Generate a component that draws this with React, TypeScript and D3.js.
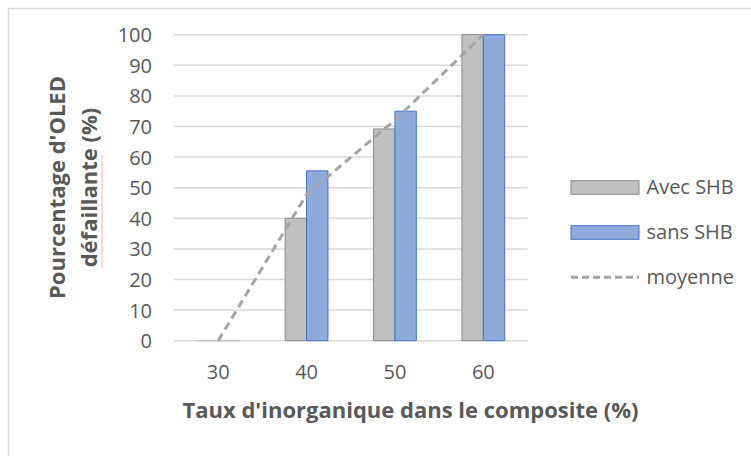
import React from 'react';
import * as d3 from 'd3';

// data
const categories = ['30', '40', '50', '60'];
const avecSHB = [0, 40, 69.2, 100];
const sansSHB = [0, 55.5, 75, 100];
const moyenne = [0, 47.75, 72.1, 100];
const yTicks = [0, 10, 20, 30, 40, 50, 60, 70, 80, 90, 100];
const seriesNames = ['Avec SHB', 'sans SHB'];

const W = 751;
const H = 456;
const FONT = '"Open Sans", sans-serif';
const TEXT = '#595959';

const App: React.FC = () => {
  const x = d3.scaleBand<string>().domain(categories).range([174, 527.5]);
  const bw = x.bandwidth();
  const x1 = d3.scaleBand<string>().domain(seriesNames).range([bw * 0.258, bw * 0.742]);
  const y = d3.scaleLinear().domain([0, 100]).range([340.7, 34.7]);

  const seriesStyle = [
    { name: seriesNames[0], values: avecSHB, fill: '#bfbfbf', stroke: '#8c8c8c' },
    { name: seriesNames[1], values: sansSHB, fill: '#8eaadb', stroke: '#4472c4' },
  ];

  const barPath = (x0: number, w: number, v: number) => {
    const p = d3.path();
    p.rect(x0, y(v), w, y(0) - y(v));
    return p.toString();
  };

  const line = d3
    .line<number>()
    .x((_, i) => (x(categories[i]) ?? 0) + bw / 2)
    .y(d => y(d));

  const legendX = 571;
  const legendW = 68;

  return (
    <svg
      width={W}
      height={H}
      style={{ position: 'absolute', left: 0, top: 0, background: '#fff' }}
      fontFamily={FONT}
    >
      {/* chart area border */}
      <rect x={8.5} y={8.5} width={W + 20} height={H + 20} fill="#fff" stroke="#d9d9d9" strokeWidth={1.5} />

      {/* gridlines */}
      {yTicks.map(t => (
        <line key={t} x1={174} x2={527.5} y1={y(t)} y2={y(t)} stroke="#d9d9d9" strokeWidth={1.5} />
      ))}

      {/* y tick labels */}
      {yTicks.map(t => (
        <text key={t} x={152} y={y(t) + 7.5} textAnchor="end" fontSize={20} fill={TEXT}>
          {t}
        </text>
      ))}

      {/* bars (zero-height ones show only as a faint baseline) */}
      {seriesStyle.map(s =>
        categories.map((c, i) => (
          <path
            key={s.name + c}
            d={barPath((x(c) ?? 0) + (x1(s.name) ?? 0), x1.bandwidth(), s.values[i])}
            fill={s.fill}
            stroke={s.values[i] === 0 ? '#c8c8c8' : s.stroke}
            strokeWidth={1}
          />
        ))
      )}

      {/* moyenne */}
      <path d={line(moyenne) ?? ''} fill="none" stroke="#a5a5a5" strokeWidth={3} strokeDasharray="8,5" />

      {/* x tick labels */}
      {categories.map(c => (
        <text key={c} x={(x(c) ?? 0) + bw / 2} y={378.5} textAnchor="middle" fontSize={20} fill={TEXT}>
          {c}
        </text>
      ))}

      {/* x title */}
      <text x={410.5} y={418} textAnchor="middle" fontSize={22} fontWeight="bold" fill={TEXT}>
        Taux d'inorganique dans le composite (%)
      </text>

      {/* y title */}
      <g transform="translate(65,187.5) rotate(-90)">
        <text x={0} y={0} textAnchor="middle" fontSize={22} fontWeight="bold" fill={TEXT}>
          Pourcentage d'OLED
        </text>
        <text x={0} y={32} textAnchor="middle" fontSize={22} fontWeight="bold" fill={TEXT}>
          défaillante (%)
        </text>
      </g>
      <line x1={102} x2={102} y1={155} y2={268} stroke="#f4b6b6" strokeWidth={1} />

      {/* legend */}
      {seriesStyle.map((s, i) => (
        <g key={s.name} transform={`translate(0,${180.7 + i * 45})`}>
          <rect x={legendX} y={0} width={legendW} height={13.6} fill={s.fill} stroke={s.stroke} strokeWidth={1} />
          <text x={646.5} y={13.5} fontSize={20} fill={TEXT}>
            {s.name}
          </text>
        </g>
      ))}
      <line x1={legendX} x2={legendX + legendW} y1={277.3} y2={277.3} stroke="#a5a5a5" strokeWidth={3} strokeDasharray="7,4" />
      <text x={646.5} y={283.5} fontSize={20} fill={TEXT}>
        moyenne
      </text>
    </svg>
  );
};

export default App;
